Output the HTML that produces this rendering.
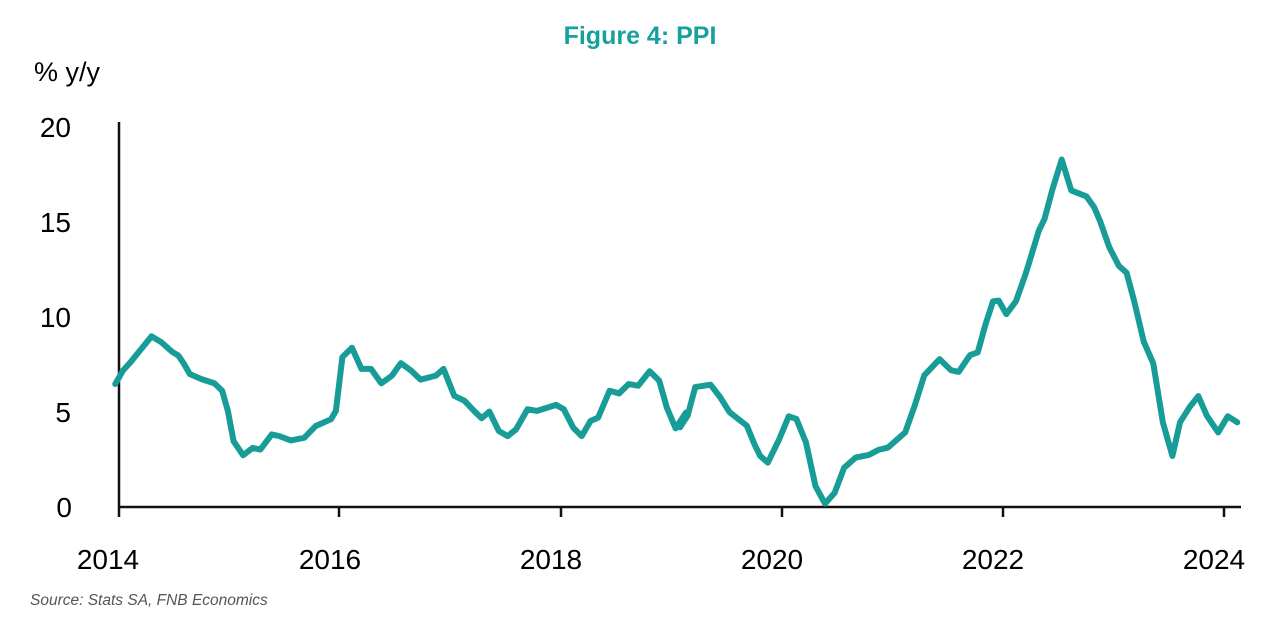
<!DOCTYPE html>
<html><head><meta charset="utf-8"><style>
html,body{margin:0;padding:0;background:#fff;}
svg{display:block;font-family:"Liberation Sans",sans-serif;}
</style></head><body>
<svg width="1280" height="621" viewBox="0 0 1280 621">
<text x="640" y="44" text-anchor="middle" font-size="25" font-weight="bold" fill="#17a09c">Figure 4: PPI</text>
<text x="34" y="81" font-size="27" fill="#000">% y/y</text>
<g font-size="28" fill="#000" text-anchor="end">
<text x="71" y="137">20</text>
<text x="71" y="232">15</text>
<text x="71" y="327">10</text>
<text x="71" y="422">5</text>
<text x="72" y="517">0</text>
</g>
<g font-size="28" fill="#000" text-anchor="middle">
<text x="108" y="569">2014</text>
<text x="330" y="569">2016</text>
<text x="551" y="569">2018</text>
<text x="772" y="569">2020</text>
<text x="993" y="569">2022</text>
<text x="1214" y="569">2024</text>
</g>
<text x="30" y="605" font-size="15.5" font-style="italic" fill="#555">Source: Stats SA, FNB Economics</text>
<g stroke="#111" stroke-width="2.5" fill="none">
<line x1="119" y1="122" x2="119" y2="508"/>
<line x1="118" y1="507" x2="1241" y2="507"/>
<line x1="119" y1="507" x2="119" y2="517"/>
<line x1="339" y1="507" x2="339" y2="517"/>
<line x1="561" y1="507" x2="561" y2="517"/>
<line x1="782" y1="507" x2="782" y2="517"/>
<line x1="1003" y1="507" x2="1003" y2="517"/>
<line x1="1224" y1="507" x2="1224" y2="517"/>
</g>
<g fill="none" stroke="#179c98" stroke-width="6" stroke-linejoin="round" stroke-linecap="round">
<polyline vector-effect="non-scaling-stroke" transform="translate(100,300) scale(0.3817,0.3361)" points="40,250 60,210 80,185 105,150 135,108 160,125 190,155 205,165 220,190 235,220 265,235 300,248 320,270 335,330 350,420 375,462 400,440 420,445 450,400 470,405 500,418 535,410 565,375 605,355 618,330 635,170 660,142 685,205 710,205 737,248 765,225 788,188 815,210 840,237 880,225 900,205 928,285 955,300 980,330 1000,352 1020,332 1045,390 1068,405 1090,385 1120,325 1145,330 1195,312 1215,325 1240,380 1262,405 1285,360 1305,350 1335,270 1360,278 1385,250 1410,255 1440,212 1465,240 1485,320 1508,382 1535,335"/>
<polyline vector-effect="non-scaling-stroke" transform="translate(680,140) scale(0.3817,0.3361)" points="0,855 20,820 40,735 80,728 105,765 130,810 175,850 195,905 210,940 230,960 260,890 285,822 305,830 330,900 355,1030 380,1082 405,1050 430,975 460,945 495,937 520,922 545,915 590,870 615,790 640,700 680,652 710,685 730,690 760,640 780,632 800,550 820,480 835,478 855,518 880,480 905,400 920,345 940,270 955,235 975,150 1000,58 1025,150 1065,168 1085,200 1100,240 1125,320 1150,375 1170,395 1190,480 1215,600 1240,665 1265,840 1290,940 1310,840 1335,795 1358,762 1380,820 1410,870 1435,822 1460,840"/>
</g>
</svg>
</body></html>
